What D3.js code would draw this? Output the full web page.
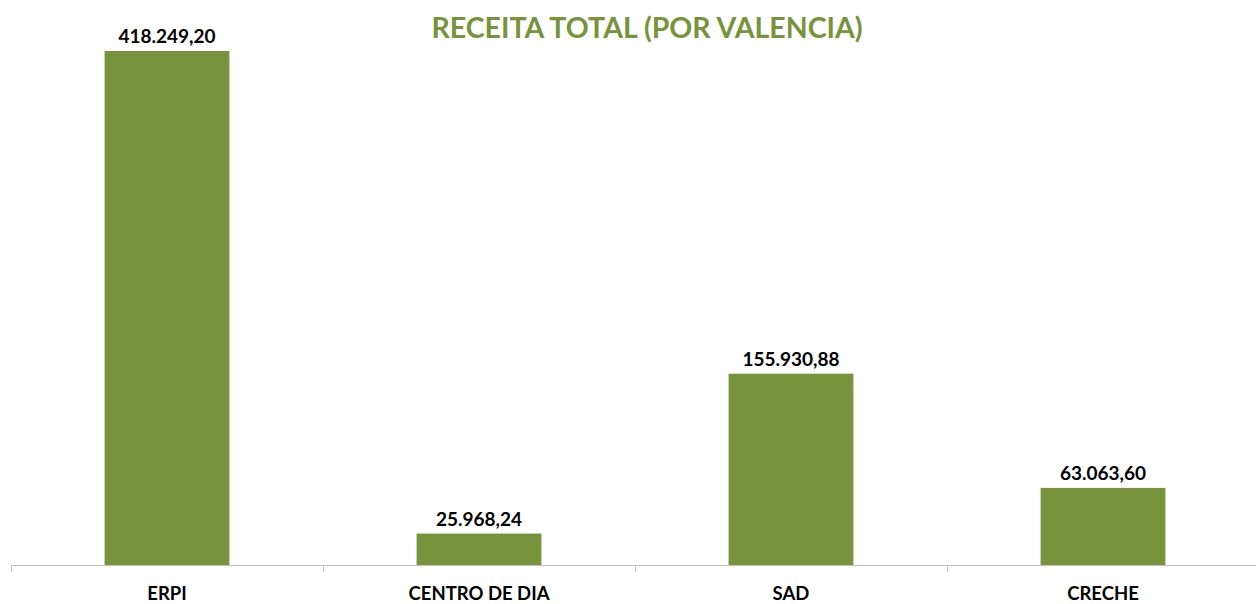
<!doctype html>
<html lang="pt">
<head>
  <meta charset="utf-8">
  <title>Receita total</title>
  <script src="https://d3js.org/d3.v7.min.js"></script>
  <style>
    body { margin: 0; background: #fff; }
    text { font-family: Lato, "Open Sans", sans-serif; font-weight: bold; }
  </style>
</head>
<body>
<div id="chart"></div>
<script>
  // data
  var categories = ["ERPI", "CENTRO DE DIA", "SAD", "CRECHE"];
  var values = [418249.20, 25968.24, 155930.88, 63063.60];
  var labels = ["418.249,20", "25.968,24", "155.930,88", "63.063,60"];

  var width = 1256, height = 604;
  var green = "#77933c";

  var svg = d3.select("#chart").append("svg")
      .attr("width", width)
      .attr("height", height);

  var x = d3.scaleBand()
      .domain(categories)
      .range([11, 1259])
      .paddingInner(0.6)
      .paddingOuter(0.3);

  var y = d3.scaleLinear()
      .domain([0, 418249.20])
      .range([565.5, 51]);

  // title
  svg.append("text")
      .attr("x", 647)
      .attr("y", 38)
      .attr("text-anchor", "middle")
      .style("font-size", "28.5px")
      .style("fill", green)
      .text("RECEITA TOTAL (POR VALENCIA)");

  // bars
  svg.append("g")
    .selectAll("rect")
    .data(values)
    .enter().append("rect")
      .attr("x", function (d, i) { return x(categories[i]); })
      .attr("y", function (d) { return y(d); })
      .attr("width", x.bandwidth())
      .attr("height", function (d) { return y(0) - y(d); })
      .style("fill", green);

  // value labels
  svg.append("g")
    .selectAll("text")
    .data(values)
    .enter().append("text")
      .attr("x", function (d, i) { return x(categories[i]) + x.bandwidth() / 2; })
      .attr("y", function (d) { return y(d) - 8; })
      .attr("text-anchor", "middle")
      .style("font-size", "19px")
      .style("fill", "#000")
      .text(function (d, i) { return labels[i]; });

  // x axis: line with ticks between categories
  var axis = svg.append("g");
  axis.append("line")
      .attr("x1", 11).attr("x2", width)
      .attr("y1", 565.5).attr("y2", 565.5)
      .style("stroke", "#bfbfbf");
  var step = x.step();
  axis.selectAll(".tick")
    .data(d3.range(categories.length))
    .enter().append("line")
      .attr("x1", function (i) { return Math.round(x(categories[i]) - step * 0.3) + 0.5; })
      .attr("x2", function (i) { return Math.round(x(categories[i]) - step * 0.3) + 0.5; })
      .attr("y1", 565.5).attr("y2", 572)
      .style("stroke", "#bfbfbf");
  axis.selectAll(".cat")
    .data(categories)
    .enter().append("text")
      .attr("x", function (d) { return x(d) + x.bandwidth() / 2; })
      .attr("y", 600)
      .attr("text-anchor", "middle")
      .style("font-size", "18.5px")
      .style("fill", "#000")
      .text(function (d) { return d; });
</script>
</body>
</html>
